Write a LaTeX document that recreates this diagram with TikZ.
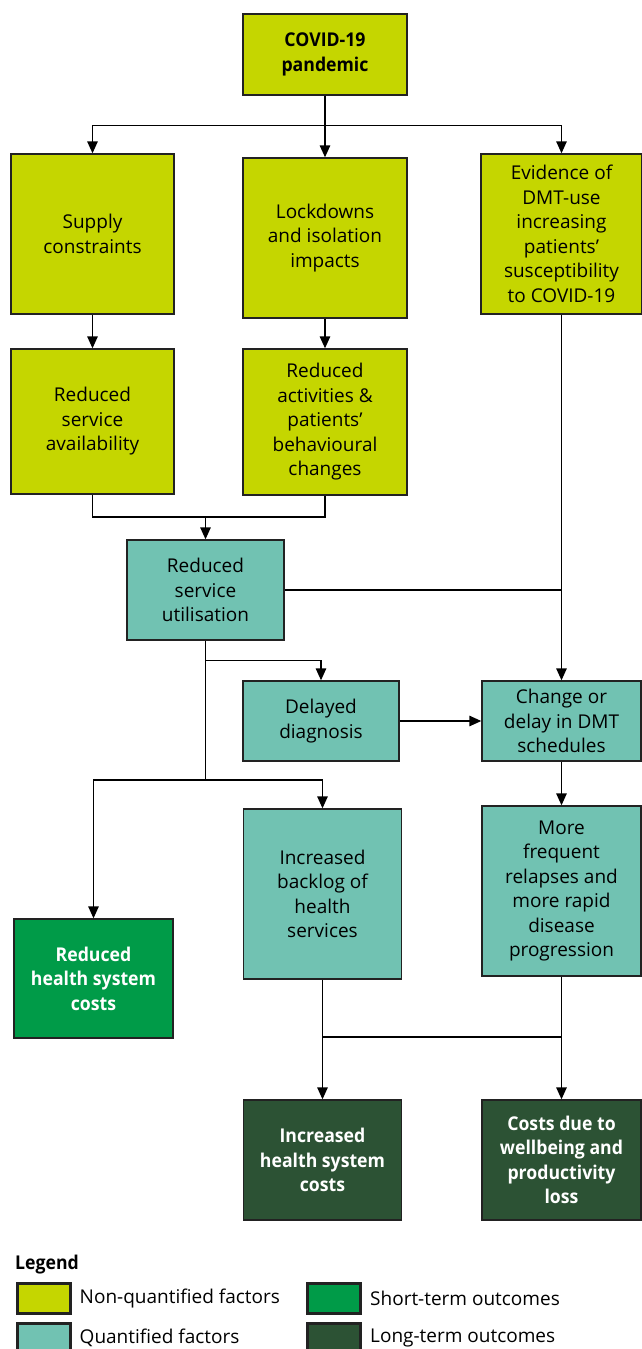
\documentclass[tikz,border=0pt]{standalone}
\usepackage{fontspec}
\setmainfont{Open Sans}[BoldFeatures={FakeStretch=0.93}]
\usetikzlibrary{arrows.meta, positioning}
\definecolor{lime}{HTML}{C5D600}
\definecolor{teal}{HTML}{71C2B2}
\definecolor{sgreen}{HTML}{009B48}
\definecolor{dgreen}{HTML}{2C5234}
\definecolor{edge}{HTML}{222222}
\tikzset{
	box/.style={draw=edge, line width=1.4pt, inner sep=0pt, align=center, font=\fontsize{19}{24.5}\selectfont},
	nquant/.style={box, fill=lime},
	quant/.style={box, fill=teal},
	shortterm/.style={box, fill=sgreen, text=white, font=\fontsize{19}{24.5}\selectfont\bfseries},
	longterm/.style={box, fill=dgreen, text=white, font=\fontsize{19}{24.5}\selectfont\bfseries},
	link/.style={line width=1.4pt, -{Triangle[length=12pt,width=10.5pt]}},
	plain/.style={line width=1.4pt},
	swatch/.style={draw=edge, line width=3pt, minimum width=53pt, minimum height=30pt, inner sep=0pt},
	legtext/.style={anchor=west, inner sep=0pt, font=\fontsize{19}{24.5}\selectfont}
}
\begin{document}
\begin{tikzpicture}[x=1pt, y=-1pt]
		\useasboundingbox (0,0) rectangle (642,1349);
		\node[nquant, minimum width=164pt, minimum height=81pt, font=\fontsize{19}{24.5}\selectfont\bfseries] (covid) at (325,54.5) {COVID-19\\pandemic};
		\node[nquant, minimum width=163pt, minimum height=160pt] (supply) at (92.5,234) {Supply\\constraints};
		\node[nquant, minimum width=164pt, minimum height=160pt] (lock) at (325,238) {Lockdowns\\and isolation\\impacts};
		\node[nquant, minimum width=161pt, minimum height=160pt] (evid) at (561.5,234) {Evidence of\\DMT-use\\increasing\\patients’\\susceptibility\\to COVID-19};
		\node[nquant, minimum width=163pt, minimum height=145pt] (avail) at (92.5,421.5) {Reduced\\service\\availability};
		\node[nquant, minimum width=164pt, minimum height=146pt] (activ) at (325,422) {Reduced\\activities \&\\patients’\\behavioural\\changes};
		\node[quant, minimum width=157pt, minimum height=100pt] (util) at (205.5,590) {Reduced\\service\\utilisation};
		\node[quant, minimum width=156pt, minimum height=80pt] (delay) at (321,721) {Delayed\\diagnosis};
		\node[quant, minimum width=159pt, minimum height=80pt] (sched) at (561.5,721) {Change or\\delay in DMT\\schedules};
		\node[quant, minimum width=158pt, minimum height=170pt] (backlog) at (322.5,894) {Increased\\backlog of\\health\\services};
		\node[quant, minimum width=159pt, minimum height=170pt] (relapse) at (561.5,891) {More\\frequent\\relapses and\\more rapid\\disease\\progression};
		\node[shortterm, minimum width=159pt, minimum height=119pt] (redcost) at (93.5,978.5) {Reduced\\health system\\costs};
		\node[longterm, minimum width=158pt, minimum height=120pt] (inccost) at (322.5,1160) {Increased\\health system\\costs};
		\node[longterm, minimum width=159pt, minimum height=120pt] (wellcost) at (561.5,1160) {Costs due to\\wellbeing and\\productivity\\loss};
		\coordinate (jact) at (205.5,517);
		\coordinate (jout) at (205.5,780);
		\coordinate (jlong) at (0,1037);
		\draw[link] (covid.south) -- ++(0,30) -| (supply.north);
		\draw[link] (covid.south) -- (lock.north);
		\draw[link] (covid.south) -- ++(0,30) -| (evid.north);
		\draw[link] (supply.south) -- (avail.north);
		\draw[link] (lock.south) -- (activ.north);
		\draw[plain] (avail.south) |- (jact) -| (activ.south);
		\draw[link] (jact) -- (util.north);
		\draw[link] (evid.south) -- (sched.north);
		\draw[plain] (util.east) -- (util.east -| evid.south);
		\draw[plain] (util.south) -- (jout);
		\draw[link] (util.south) ++(0,20) -| (delay.north);
		\draw[link] (delay.east) -- (sched.west);
		\draw[link] (jout) -| (redcost.north);
		\draw[link] (jout) -| (backlog.north);
		\draw[link] (sched.south) -- (relapse.north);
		\draw[link] (backlog.south) -- (inccost.north);
		\draw[link] (relapse.south) -- (wellcost.north);
		\draw[plain] (backlog.south |- jlong) -- (relapse.south |- jlong);
		% legend
		\node[anchor=west, inner sep=0pt, font=\fontsize{19}{24.5}\selectfont\bfseries] (legend) at (15,1265) {Legend};
		\node[swatch, fill=lime] (sw1) at (43.5,1298) {};
		\node[swatch, fill=teal] (sw2) at (43.5,1338) {};
		\node[swatch, fill=sgreen] (sw3) at (334,1298) {};
		\node[swatch, fill=dgreen] (sw4) at (334,1338) {};
		\node[legtext, right=8pt of sw1] (lt1) {Non-quantified factors};
		\node[legtext, right=8pt of sw2] (lt2) {Quantified factors};
		\node[legtext, right=8pt of sw3] (lt3) {Short-term outcomes};
		\node[legtext, right=8pt of sw4] (lt4) {Long-term outcomes};
	\end{tikzpicture}
\end{document}
